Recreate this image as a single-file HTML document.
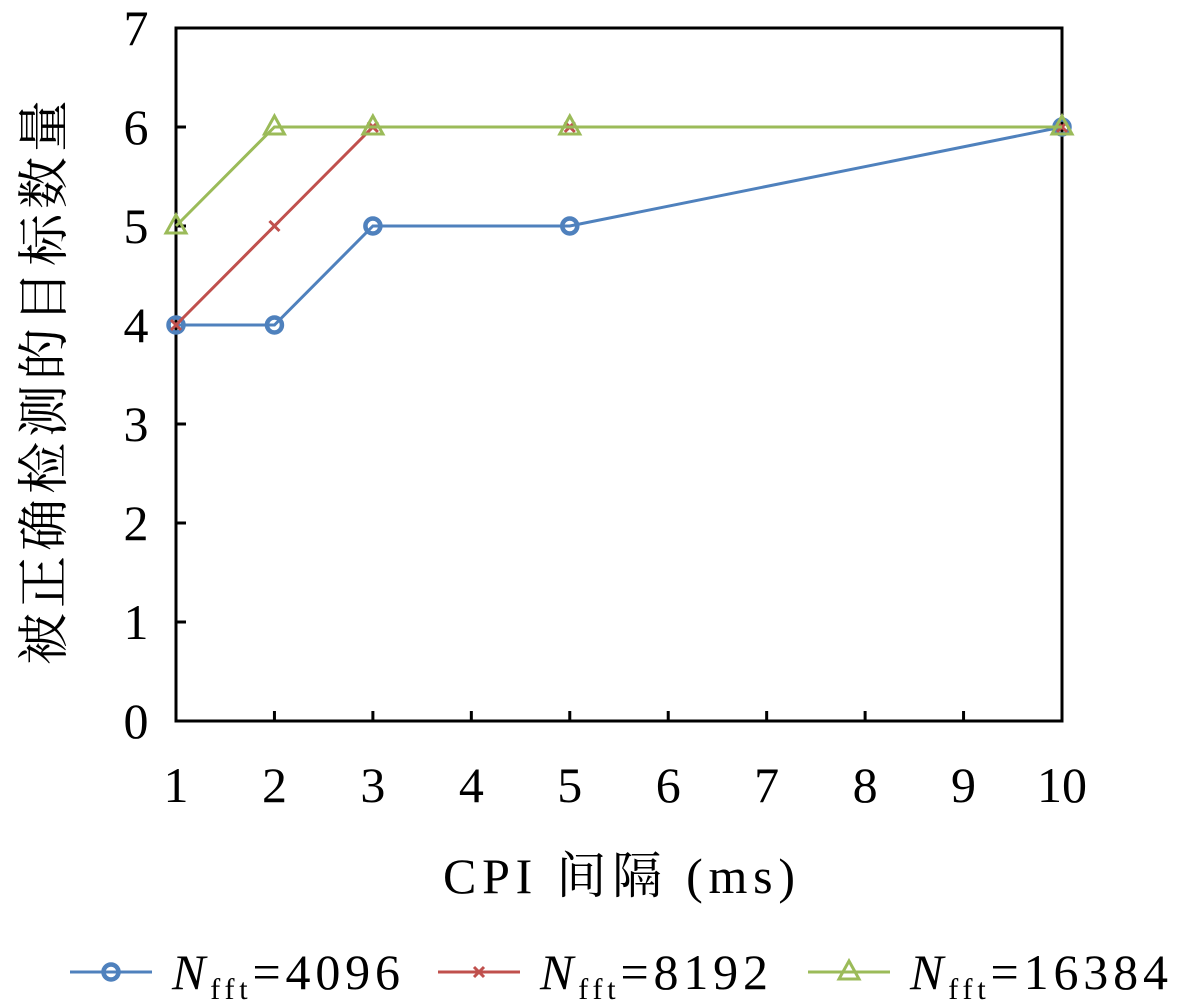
<!DOCTYPE html>
<html><head><meta charset="utf-8"><style>
html,body{margin:0;padding:0;background:#fff;}
svg{display:block;font-family:"Liberation Serif","Noto Serif CJK SC",serif;}
</style></head><body>
<svg id="chart" width="1181" height="1005" viewBox="0 0 1181 1005" xmlns="http://www.w3.org/2000/svg"></svg>
<script>
const xTicks=[1,2,3,4,5,6,7,8,9,10];
const yTicks=[0,1,2,3,4,5,6,7];
const xCats=[1,2,3,5,10];
const s4096=[4,4,5,5,6];
const s8192=[4,5,6,6,6];
const s16384=[5,6,6,6,6];
const L=176,R=1062,T=28,B=721;
const sx=v=>L+(v-1)/(10-1)*(R-L);
const sy=v=>B-v/7*(B-T);
const NS="http://www.w3.org/2000/svg";
const svg=document.getElementById('chart');
function mk(tag,attrs,parent){const e=document.createElementNS(NS,tag);for(const k in attrs)e.setAttribute(k,attrs[k]);(parent||svg).appendChild(e);return e;}
const frame=mk('rect',{x:L,y:T,width:R-L,height:B-T,fill:'none',stroke:'#000','stroke-width':3});


xTicks.forEach(v=>{
  const t=mk('line',{x1:sx(v),x2:sx(v),y1:B,y2:B-10,stroke:'#000','stroke-width':3});
  
  
  const l=mk('text',{x:sx(v),y:802,'text-anchor':'middle','font-size':50});
  l.textContent=v;
  
  
});
yTicks.forEach(v=>{
  const t=mk('line',{x1:L,x2:L+10,y1:sy(v),y2:sy(v),stroke:'#000','stroke-width':3});
  
  
  const l=mk('text',{x:136,y:sy(v)+17,'text-anchor':'middle','font-size':50});
  l.textContent=v;
  
  
});
function marker(type,x,y,color,g){
  if(type==='o'){mk('circle',{cx:x,cy:y,r:7.5,fill:'none',stroke:color,'stroke-width':4.5},g);}
  else if(type==='x'){mk('path',{d:`M${x-5},${y-5}L${x+5},${y+5}M${x-5},${y+5}L${x+5},${y-5}`,stroke:color,'stroke-width':3},g);}
  else {mk('path',{d:`M${x},${y-11}L${x+10},${y+7}L${x-10},${y+7}Z`,fill:'none',stroke:color,'stroke-width':3},g);}
}
const series=[[s4096,'#4f81bd','o','series-4096'],[s8192,'#c0504d','x','series-8192'],[s16384,'#9bbb59','t','series-16384']];
series.forEach(([vals,c,m,name])=>{
  const g=mk('g',{});
  
  
  mk('polyline',{points:vals.map((v,i)=>sx(xCats[i])+','+sy(v)).join(' '),fill:'none',stroke:c,'stroke-width':3},g);
  vals.forEach((v,i)=>marker(m,sx(xCats[i]),sy(v),c,g));
});
const xt=mk('text',{x:443,y:893,'font-size':50,textLength:352,lengthAdjust:'spacing'});
xt.textContent='CPI 间隔 (ms)';


const yt=mk('text',{x:0,y:0,'text-anchor':'middle','font-size':52,'letter-spacing':5,transform:'translate(62,380) rotate(-90)'});
yt.textContent='被正确检测的目标数量';


const leg=[[70,'#4f81bd','o','4096',228],[438,'#c0504d','x','8192',228],[808,'#9bbb59','t','16384',258]];
leg.forEach(([x0,c,m,lab,w])=>{
  const g=mk('g',{});
  
  
  mk('line',{x1:x0,x2:x0+82,y1:972,y2:972,stroke:c,'stroke-width':3},g);
  marker(m,x0+41,972,c,g);
  const t=mk('text',{x:x0+102,y:989,'font-size':50,textLength:w,lengthAdjust:'spacing'},g);
  t.innerHTML='<tspan font-style="italic">N</tspan><tspan font-size="30" dy="10">fft</tspan><tspan dy="-10">=' + lab + '</tspan>';
});
</script>
</body></html>
